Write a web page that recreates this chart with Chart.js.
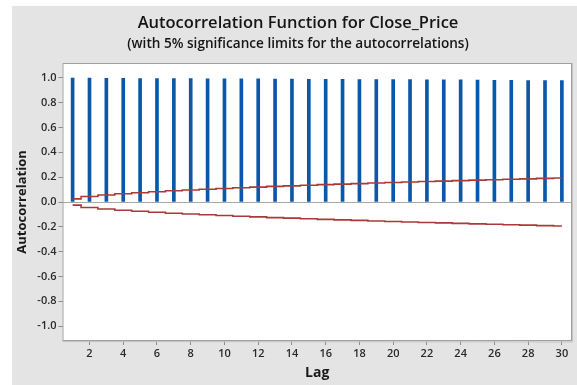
<!DOCTYPE html>
<html>
<head>
<meta charset="utf-8">
<script src="https://cdn.jsdelivr.net/npm/chart.js"></script>
<style>
  html, body { margin: 0; padding: 0; background: #fff; }
</style>
</head>
<body>
<canvas id="myChart" width="577" height="385"></canvas>
<script>
/*====== data =======*/
const titleText = 'Autocorrelation Function for Close_Price';
const subtitleText = '(with 5% significance limits for the autocorrelations)';

const lags = [1, 2, 3, 4, 5, 6, 7, 8, 9, 10, 11, 12, 13, 14, 15,
  16, 17, 18, 19, 20, 21, 22, 23, 24, 25, 26, 27, 28, 29, 30];

const acf = [0.999, 0.998, 0.997, 0.996, 0.995, 0.995, 0.994, 0.994, 0.993, 0.993,
  0.992, 0.992, 0.991, 0.991, 0.989, 0.988, 0.988, 0.987, 0.987, 0.986,
  0.986, 0.985, 0.985, 0.984, 0.982, 0.981, 0.980, 0.979, 0.979, 0.978];

const upperLimit = [0.025, 0.044, 0.056, 0.066, 0.075, 0.083, 0.091, 0.097, 0.103, 0.109,
  0.115, 0.120, 0.126, 0.130, 0.135, 0.140, 0.144, 0.148, 0.153, 0.157,
  0.161, 0.165, 0.168, 0.172, 0.176, 0.179, 0.183, 0.186, 0.190, 0.193];

const lowerLimit = [-0.025, -0.044, -0.056, -0.066, -0.075, -0.083, -0.091, -0.097, -0.103, -0.109,
  -0.115, -0.120, -0.126, -0.130, -0.135, -0.140, -0.144, -0.148, -0.153, -0.157,
  -0.161, -0.165, -0.168, -0.172, -0.176, -0.179, -0.183, -0.186, -0.190, -0.193];

const xTicks = [2, 4, 6, 8, 10, 12, 14, 16, 18, 20, 22, 24, 26, 28, 30];
const yTicks = [-1.0, -0.8, -0.6, -0.4, -0.2, 0.0, 0.2, 0.4, 0.6, 0.8, 1.0];

/*====== background, titles, frame =======*/
const panel = {
  id: 'panel',
  beforeDraw(chart) {
    const {ctx, chartArea: a} = chart;
    ctx.save();
    ctx.fillStyle = '#e4e4e4';
    ctx.fillRect(12, 6, chart.width - 12, chart.height - 6);
    ctx.fillStyle = '#ffffff';
    ctx.fillRect(a.left, a.top, a.right - a.left, a.bottom - a.top);
    ctx.fillStyle = '#151515';
    ctx.textAlign = 'center';
    ctx.textBaseline = 'middle';
    ctx.font = '600 16.5px "Open Sans"';
    ctx.fillText(titleText, 298, 23);
    ctx.font = '600 13.6px "Open Sans"';
    ctx.fillText(subtitleText, 298, 44);
    ctx.restore();
  },
  afterDraw(chart) {
    const {ctx, chartArea: a} = chart;
    ctx.save();
    ctx.strokeStyle = '#a0a0a0';
    ctx.lineWidth = 1;
    ctx.strokeRect(a.left + 0.5, a.top + 0.5, a.right - a.left - 1, a.bottom - a.top - 1);
    ctx.strokeStyle = '#c4c4c4';
    ctx.beginPath();
    ctx.moveTo(a.right + 0.5, a.top);
    ctx.lineTo(a.right + 0.5, a.bottom + 1);
    ctx.lineTo(a.left, a.bottom + 0.5);
    ctx.stroke();
    ctx.restore();
  }
};

Chart.defaults.font.family = '"Open Sans", sans-serif';
Chart.defaults.color = '#2a2a2a';

const data = {
  datasets: [
    {
      type: 'line',
      label: 'Upper limit',
      data: lags.map((l, i) => ({x: l, y: upperLimit[i]})),
      borderColor: '#a83a3a',
      borderWidth: 1.6,
      pointRadius: 0,
      stepped: 'middle',
      fill: false
    },
    {
      type: 'line',
      label: 'Lower limit',
      data: lags.map((l, i) => ({x: l, y: lowerLimit[i]})),
      borderColor: '#a83a3a',
      borderWidth: 1.6,
      pointRadius: 0,
      stepped: 'middle',
      fill: false
    },
    {
      type: 'bar',
      label: 'Autocorrelation',
      data: lags.map((l, i) => ({x: l, y: acf[i]})),
      backgroundColor: '#0a58a8',
      barThickness: 3
    }
  ]
};

const config = {
  type: 'bar',
  data: data,
  plugins: [panel],
  options: {
    responsive: false,
    animation: false,
    layout: { padding: { left: 12, top: 63, right: 5, bottom: 0 } },
    plugins: {
      legend: { display: false },
      tooltip: { enabled: false }
    },
    scales: {
      x: {
        type: 'linear',
        offset: false,
        min: 0.4,
        max: 30.6,
        afterFit(scale) { scale.height = 44; },
        afterBuildTicks(scale) { scale.ticks = xTicks.map(v => ({value: v})); },
        grid: { offset: false, drawOnChartArea: false, tickLength: 4, tickColor: '#8c8c8c' },
        border: { display: false },
        ticks: { font: { size: 11, weight: '600' }, padding: 2, maxRotation: 0, autoSkip: false },
        title: { display: true, text: 'Lag', font: { size: 14, weight: 'bold' }, color: '#1a1a1a', padding: { top: 0, bottom: 3.6 } }
      },
      y: {
        min: -1.12,
        max: 1.12,
        afterFit(scale) { scale.width = 50.5; },
        afterBuildTicks(scale) { scale.ticks = yTicks.map(v => ({value: v})); },
        grid: {
          color: c => (c.tick && c.tick.value === 0 ? '#a8a8a8' : 'transparent'),
          tickLength: 4,
          tickColor: '#8c8c8c'
        },
        border: { display: false },
        ticks: {
          font: { size: 11, weight: '600' },
          padding: 2,
          autoSkip: false,
          callback: v => v.toFixed(1)
        },
        title: { display: true, text: 'Autocorrelation', font: { size: 13, weight: 'bold' }, color: '#1a1a1a', padding: { top: 2.2, bottom: 0 } }
      }
    }
  }
};

const myChart = new Chart(document.getElementById('myChart'), config);
</script>
</body>
</html>
